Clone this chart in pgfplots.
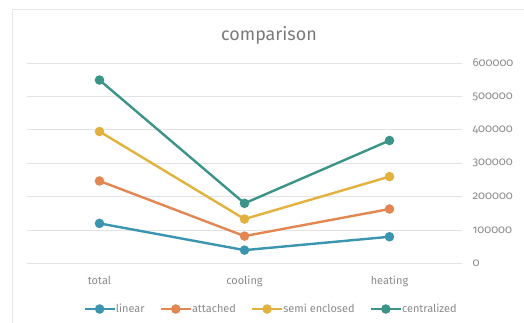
\documentclass[border=0pt]{standalone}
\usepackage{fontspec}
\setmainfont{Fira Sans}[Numbers=OldStyle]
\usepackage{pgfplots}
\pgfplotsset{compat=1.18}

\definecolor{clinear}{HTML}{3B95AE}
\definecolor{cattached}{HTML}{E38752}
\definecolor{csemi}{HTML}{E2B13E}
\definecolor{ccentral}{HTML}{3C9488}
\definecolor{gridgray}{HTML}{E3E3E3}
\definecolor{labelgray}{HTML}{8A8A8A}
\definecolor{titlegray}{HTML}{7A7A7A}

\begin{document}
\begin{tikzpicture}
\begin{axis}[
  at={(27bp,59.5bp)}, anchor=south west,
  scale only axis, width=435bp, height=200.5bp,
  xmin=-0.5, xmax=2.5, ymin=0, ymax=600000,
  xtick={0,1,2}, xticklabels={total,cooling,heating},
  ytick={0,100000,...,600000},
  scaled y ticks=false,
  /pgf/number format/assume math mode=true,
  yticklabel={\pgfmathprintnumber[fixed,1000 sep={}]{\tick}},
  axis line style={draw=none},
  major tick length=0pt,
  ymajorgrids, grid style={gridgray, line width=0.8bp},
  yticklabel pos=right,
  yticklabel style={anchor=west, xshift=7bp, text=labelgray, font=\fontsize{11.5}{13}\selectfont},
  xticklabel style={text=labelgray, yshift=-9bp, font=\fontsize{11}{13}\selectfont},
  every axis plot/.append style={line width=2.4bp, mark=*, mark size=3.5bp},
  legend columns=4,
  legend style={at={(0.561,-0.227)}, anchor=center, draw=none, fill=none,
    font=\fontsize{11}{13}\selectfont, text=labelgray,
    /tikz/every even column/.append style={column sep=13bp},
    /tikz/every odd column/.append style={column sep=-2bp},
    inner sep=0pt},
  legend image code/.code={\draw[#1, mark repeat=2, mark phase=2] plot coordinates {(0bp,0bp)(15bp,0bp)(30bp,0bp)};},
  clip=false,
]
\addplot[clinear, mark options={fill=clinear}] coordinates {(0,120000) (1,40000) (2,80000)};
\addlegendentry{linear}
\addplot[cattached, mark options={fill=cattached}] coordinates {(0,247000) (1,82000) (2,163000)};
\addlegendentry{attached}
\addplot[csemi, mark options={fill=csemi}] coordinates {(0,395000) (1,133000) (2,260000)};
\addlegendentry{semi enclosed}
\addplot[ccentral, mark options={fill=ccentral}] coordinates {(0,549000) (1,180000) (2,368000)};
\addlegendentry{centralized}
\end{axis}
\draw[black!10, line width=0.8bp] (12bp,-5bp) -- (12bp,314bp) -- (540bp,314bp);
\node[text=titlegray, font=\fontsize{18}{21}\selectfont] at (269bp,288bp) {comparison};
\pgfresetboundingbox
\useasboundingbox (0,0) rectangle (524bp,323bp);
\end{tikzpicture}
\end{document}
